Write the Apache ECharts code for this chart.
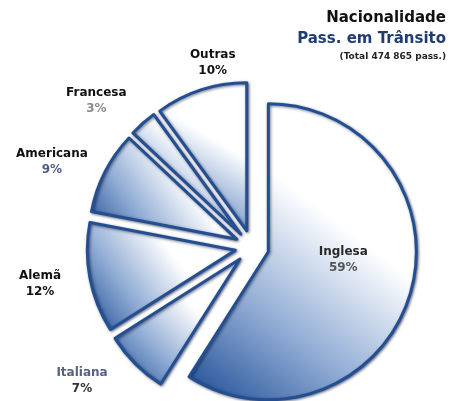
<!doctype html>
<html>
<head>
    <meta charset="utf-8">
    <title>Nacionalidade</title>
    <script src="https://cdnjs.cloudflare.com/ajax/libs/echarts/6.0.0/echarts.min.js"></script>
</head>
<style>
    html, body { margin: 0; padding: 0; background: #fff; }
    #EChartParent { width: 451px; height: 401px; }
</style>
<body>
<div id="EChartParent"></div>
<script>
  // data
  var names = ['Inglesa', 'Italiana', 'Alemã', 'Americana', 'Francesa', 'Outras'];
  var values = [59, 7, 12, 9, 3, 10];
  var titleLines = ['Nacionalidade', 'Pass. em Trânsito', '(Total 474 865 pass.)'];

  var font = 'DejaVu Sans';
  // colour of the name / percentage line of each label
  var nameColors = ['#2a2a2a', '#5a6080', '#111', '#111', '#111', '#111'];
  var pctColors = ['#555', '#333', '#111', '#4d5b88', '#8a8a8a', '#111'];
  // small nudges so labels sit where the original put them
  var labelNudge = [[1, -13], [-13, 12], [-12, 4], [-1, -7], [-2, -16], [46, -20]];

  var chart = echarts.init(document.getElementById('EChartParent'));

  var fill = {
    type: 'linear', x: 1, y: 0, x2: 0, y2: 1,
    colorStops: [
      { offset: 0, color: '#ffffff' },
      { offset: 0.38, color: '#ffffff' },
      { offset: 0.7, color: '#8fabd4' },
      { offset: 1, color: '#1b4a93' }
    ]
  };

  var data = names.map(function (n, i) {
    var inside = i === 0;
    return {
      name: n,
      value: values[i],
      selected: true,
      label: {
        position: inside ? 'inside' : 'outside',
        rich: {
          n: { fontFamily: font, fontSize: 12, fontWeight: 'bold', color: nameColors[i], align: 'center', lineHeight: 16 },
          p: { fontFamily: font, fontSize: 12, fontWeight: 'bold', color: pctColors[i], align: 'center', lineHeight: 16 }
        }
      }
    };
  });

  var option = {
    animation: false,
    title: [
      { text: titleLines[0], right: 5, top: 11, padding: 0, textStyle: { fontFamily: font, fontSize: 15, fontWeight: 'bold', color: '#111' } },
      { text: titleLines[1], right: 5, top: 32, padding: 0, textStyle: { fontFamily: font, fontSize: 15, fontWeight: 'bold', color: '#1f3d73' } },
      { text: titleLines[2], right: 5, top: 52, padding: 0, textStyle: { fontFamily: font, fontSize: 9, fontWeight: 'bold', color: '#222' } }
    ],
    series: [{
      type: 'pie',
      center: [252, 247],
      radius: 148,
      startAngle: 90,
      clockwise: true,
      selectedMode: 'multiple',
      selectedOffset: 17,
      avoidLabelOverlap: false,
      itemStyle: {
        color: fill,
        borderColor: '#234f92',
        borderWidth: 3,
        shadowBlur: 3,
        shadowOffsetX: 1,
        shadowOffsetY: 1,
        shadowColor: 'rgba(0, 15, 50, 0.55)'
      },
      label: {
        show: true,
        formatter: '{n|{b}}\n{p|{d}%}'
      },
      labelLine: { show: false, length: 8, length2: 4 },
      labelLayout: function (params) {
        var d = labelNudge[params.dataIndex];
        return { dx: d[0], dy: d[1] };
      },
      emphasis: { disabled: true },
      data: data
    }]
  };

  chart.setOption(option);
</script>
</body>
</html>
